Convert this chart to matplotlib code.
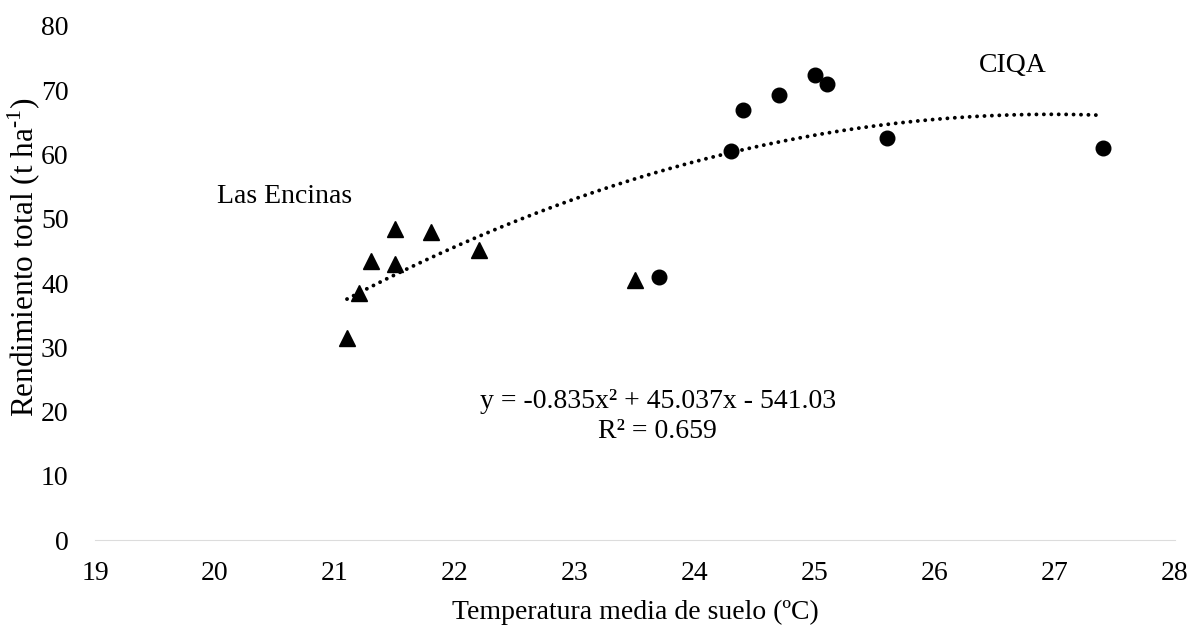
import numpy as np
import matplotlib
matplotlib.use('Agg')
from matplotlib import pyplot as plt

plt.rcParams['font.family'] = ['Liberation Serif', 'DejaVu Serif']
plt.rcParams['mathtext.fontset'] = 'custom'
plt.rcParams['mathtext.rm'] = 'Liberation Serif'

# Las Encinas (triangles)
encinas_temp = [21.1, 21.2, 21.3, 21.5, 21.5, 21.8, 22.2, 23.5]
encinas_yield = [31.5, 38.5, 43.5, 48.4, 43.0, 48.0, 45.1, 40.4]

# CIQA (circles)
ciqa_temp = [23.7, 24.3, 24.4, 24.7, 25.0, 25.1, 25.6, 27.4]
ciqa_yield = [41.0, 60.6, 66.9, 69.2, 72.4, 71.0, 62.5, 61.0]

# polynomial trend line coefficients (from the equation shown)
trend_coef = [-0.835, 45.037, -541.03]
trend_label = 'y = -0.835x² + 45.037x - 541.03\nR² = 0.659'

x_ticks = list(range(19, 29))
y_ticks = list(range(0, 81, 10))

fig = plt.figure(figsize=(12.01, 6.31), dpi=100)
ax = fig.add_axes([0.0791, 0.1442, 0.8993, 0.8146])

# trend line over the range of all points
all_temp = encinas_temp + ciqa_temp
xs = np.linspace(min(all_temp), max(all_temp), 200)
ax.plot(xs, np.polyval(trend_coef, xs), color='black', linewidth=2.8,
        linestyle=(0, (0.01, 1.9)), dash_capstyle='round', zorder=2)

ax.plot(encinas_temp, encinas_yield, linestyle='none', marker='^',
        markersize=11, color='black', zorder=3)
ax.plot(ciqa_temp, ciqa_yield, linestyle='none', marker='o',
        markersize=10.5, color='black', zorder=3)

ax.text(20.58, 53.4, 'Las Encinas', fontsize=20, ha='center', va='center')
ax.text(26.65, 73.85, 'CIQA', fontsize=20, ha='center', va='center')
ax.text(23.69, 19.2, trend_label, fontsize=20, ha='center', va='center',
        multialignment='center', linespacing=1.3)

ax.set_xlim(19, 28)
ax.set_ylim(0, 80)
ax.set_xticks(x_ticks)
ax.set_yticks(y_ticks)
ax.tick_params(axis='both', length=0, labelsize=20)
ax.tick_params(axis='x', pad=15)
ax.tick_params(axis='y', pad=19)

for side in ['top', 'right', 'left']:
    ax.spines[side].set_visible(False)
ax.spines['bottom'].set_color('#dcdcdc')
ax.spines['bottom'].set_linewidth(0.8)

ax.set_xlabel('Temperatura media de suelo (ºC)', fontsize=20, labelpad=10)
fig.text(24 / 1201, 1 - 257 / 631, 'Rendimiento total (t ha$^{\u20101}$)',
         fontsize=22.5, rotation=90, ha='center', va='center')

fig.savefig('out.png', dpi=100)
